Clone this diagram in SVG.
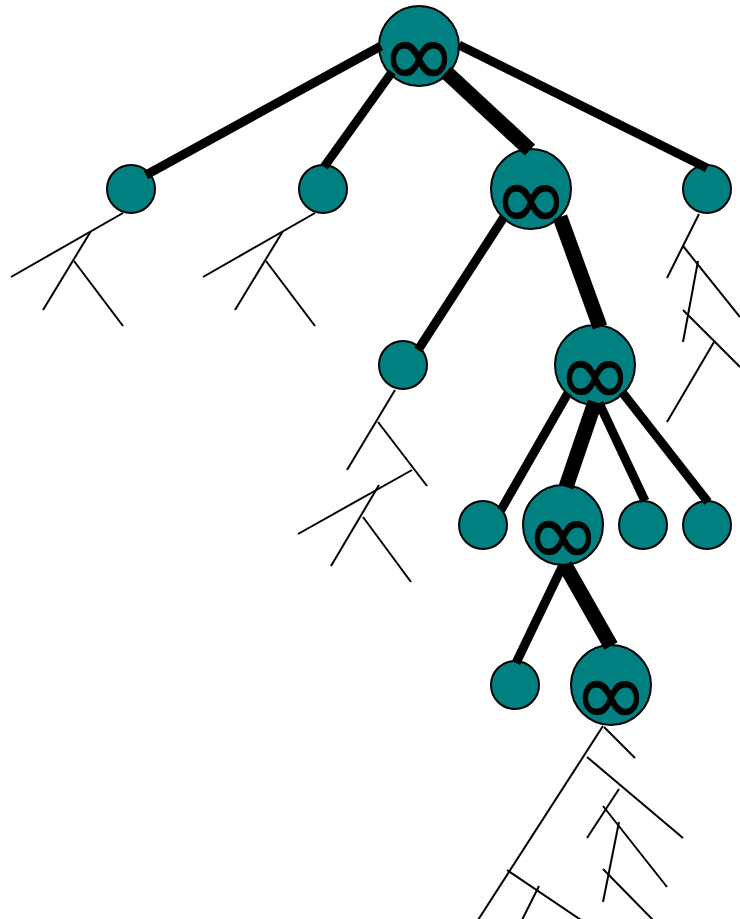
<svg xmlns="http://www.w3.org/2000/svg" width="740" height="919" viewBox="0 0 740 919">
  <style>
    .node { fill: #008080; stroke: #000; stroke-width: 2; }
    .inf { font-family: "DejaVu Sans", sans-serif; font-size: 90px; fill: #000; stroke: #000; stroke-width: 0.8; text-anchor: middle; }
    .edge { stroke: #000; stroke-linecap: butt; fill: none; }
    .e8 { stroke-width: 9; }
    .e14 { stroke-width: 15; }
    .twig { stroke: #000; stroke-width: 2; fill: none; }
  </style>
  <rect width="740" height="919" fill="#fff"/>

  <!-- thin branch strokes -->
  <g id="twigs">
    <line class="twig" x1="123" y1="213" x2="11" y2="277"/>
    <line class="twig" x1="91" y1="231" x2="43" y2="310"/>
    <line class="twig" x1="74" y1="261" x2="123" y2="326"/>

    <line class="twig" x1="315" y1="213" x2="203" y2="277"/>
    <line class="twig" x1="283" y1="231" x2="235" y2="310"/>
    <line class="twig" x1="266" y1="261" x2="315" y2="326"/>

    <line class="twig" x1="699" y1="214" x2="667" y2="278"/>
    <line class="twig" x1="683" y1="246" x2="740" y2="317"/>
    <line class="twig" x1="698" y1="261" x2="683" y2="342"/>
    <line class="twig" x1="683" y1="310" x2="740" y2="367"/>
    <line class="twig" x1="714" y1="342" x2="667" y2="422"/>

    <line class="twig" x1="395" y1="390" x2="347" y2="470"/>
    <line class="twig" x1="378" y1="422" x2="427" y2="486"/>
    <line class="twig" x1="412" y1="470" x2="298" y2="534"/>
    <line class="twig" x1="379" y1="485" x2="331" y2="566"/>
    <line class="twig" x1="363" y1="517" x2="411" y2="582"/>

    <line class="twig" x1="603" y1="726" x2="478" y2="920"/>
    <line class="twig" x1="604" y1="727" x2="635" y2="758"/>
    <line class="twig" x1="587" y1="757" x2="683" y2="838"/>
    <line class="twig" x1="619" y1="789" x2="587" y2="838"/>
    <line class="twig" x1="603" y1="806" x2="667" y2="887"/>
    <line class="twig" x1="619" y1="822" x2="603" y2="902"/>
    <line class="twig" x1="603" y1="869" x2="653" y2="920"/>
    <line class="twig" x1="507" y1="870" x2="581" y2="920"/>
    <line class="twig" x1="539" y1="886" x2="522" y2="920"/>
  </g>

  <!-- nodes -->
  <g id="root"><circle class="node" cx="419" cy="46" r="40"/><text class="inf" x="419" y="86">∞</text></g>
  <g id="n1"><circle class="node" cx="131" cy="189" r="24"/></g>
  <g id="n2"><circle class="node" cx="323" cy="189" r="24"/></g>
  <g id="n3"><circle class="node" cx="531" cy="189" r="40"/><text class="inf" x="531" y="229">∞</text></g>
  <g id="n4"><circle class="node" cx="707" cy="189" r="24"/></g>
  <g id="n5"><circle class="node" cx="403" cy="365" r="24"/></g>
  <g id="n6"><circle class="node" cx="595" cy="365" r="40"/><text class="inf" x="595" y="405">∞</text></g>
  <g id="n7"><circle class="node" cx="483" cy="525" r="24"/></g>
  <g id="n8"><circle class="node" cx="563" cy="525" r="40"/><text class="inf" x="563" y="565">∞</text></g>
  <g id="n9"><circle class="node" cx="643" cy="525" r="24"/></g>
  <g id="n10"><circle class="node" cx="707" cy="525" r="24"/></g>
  <g id="n11"><circle class="node" cx="515" cy="685" r="24"/></g>
  <g id="n12"><circle class="node" cx="611" cy="685" r="40"/><text class="inf" x="611" y="725">∞</text></g>

  <!-- connectors -->
  <g id="edges">
    <line class="edge e8" x1="381" y1="46" x2="146" y2="175"/>
    <line class="edge e8" x1="392" y1="72" x2="324" y2="167"/>
    <line class="edge e14" x1="446" y1="72" x2="530" y2="150"/>
    <line class="edge e8" x1="459" y1="45" x2="707" y2="168"/>
    <line class="edge e8" x1="504" y1="217" x2="418" y2="350"/>
    <line class="edge e14" x1="560" y1="217" x2="600" y2="327"/>
    <line class="edge e8" x1="568" y1="393" x2="501" y2="510"/>
    <line class="edge e14" x1="595" y1="402" x2="566" y2="487"/>
    <line class="edge e8" x1="599" y1="403" x2="645" y2="501"/>
    <line class="edge e8" x1="622" y1="392" x2="708" y2="502"/>
    <line class="edge e8" x1="563" y1="565" x2="516" y2="663"/>
    <line class="edge e14" x1="565" y1="565" x2="611" y2="646"/>
  </g>
</svg>
